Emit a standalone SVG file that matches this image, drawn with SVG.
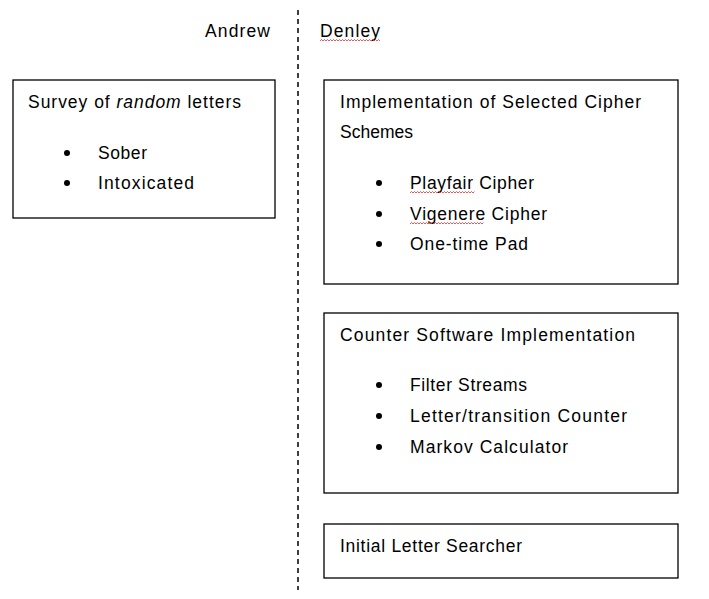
<svg xmlns="http://www.w3.org/2000/svg" width="709" height="599" viewBox="0 0 709 599">
<style>
.box{fill:#fff;stroke:#000;stroke-width:1.3}
text{font-family:"Liberation Sans",Arial,sans-serif;font-size:17.5px;fill:#000}
.sq{fill:none;stroke:#e03030;stroke-width:0.8}
</style>
<rect width="709" height="599" fill="#fff"/>
<g id="divider">
<line x1="298" y1="10" x2="298" y2="590" stroke="#000" stroke-width="1.5" stroke-dasharray="5,4"/>
</g>
<g id="header-andrew"><text x="205" y="37" textLength="65" lengthAdjust="spacing">Andrew</text></g>
<g id="header-denley"><text x="320" y="37" textLength="60" lengthAdjust="spacing">Denley</text>
<path class="sq" d="M320,41 l1.5,-1.5 l1.5,1.5 l1.5,-1.5 l1.5,1.5 l1.5,-1.5 l1.5,1.5 l1.5,-1.5 l1.5,1.5 l1.5,-1.5 l1.5,1.5 l1.5,-1.5 l1.5,1.5 l1.5,-1.5 l1.5,1.5 l1.5,-1.5 l1.5,1.5 l1.5,-1.5 l1.5,1.5 l1.5,-1.5 l1.5,1.5 l1.5,-1.5 l1.5,1.5 l1.5,-1.5 l1.5,1.5 l1.5,-1.5 l1.5,1.5 l1.5,-1.5 l1.5,1.5 l1.5,-1.5 l1.5,1.5 l1.5,-1.5 l1.5,1.5 l1.5,-1.5 l1.5,1.5 l1.5,-1.5 l1.5,1.5 l1.5,-1.5 l1.5,1.5 l1.5,-1.5 l1.5,1.5"/></g>
<g id="survey">
<rect class="box" x="13" y="80" width="262" height="138"/>
<text x="28" y="108" textLength="213" lengthAdjust="spacing">Survey of <tspan font-style="italic">random</tspan> letters</text>
<circle cx="67" cy="153" r="3"/><text x="98" y="159" textLength="49" lengthAdjust="spacing">Sober</text>
<circle cx="67" cy="183" r="3"/><text x="98" y="189" textLength="96" lengthAdjust="spacing">Intoxicated</text>
</g>
<g id="cipher">
<rect class="box" x="324" y="80" width="354" height="204"/>
<text x="340" y="108" textLength="301" lengthAdjust="spacing">Implementation of Selected Cipher</text>
<text x="340" y="138" textLength="73" lengthAdjust="spacing">Schemes</text>
<circle cx="379" cy="183" r="3"/><text x="410" y="189" textLength="124" lengthAdjust="spacing">Playfair Cipher</text>
<path class="sq" d="M410,193 l1.5,-1.5 l1.5,1.5 l1.5,-1.5 l1.5,1.5 l1.5,-1.5 l1.5,1.5 l1.5,-1.5 l1.5,1.5 l1.5,-1.5 l1.5,1.5 l1.5,-1.5 l1.5,1.5 l1.5,-1.5 l1.5,1.5 l1.5,-1.5 l1.5,1.5 l1.5,-1.5 l1.5,1.5 l1.5,-1.5 l1.5,1.5 l1.5,-1.5 l1.5,1.5 l1.5,-1.5 l1.5,1.5 l1.5,-1.5 l1.5,1.5 l1.5,-1.5 l1.5,1.5 l1.5,-1.5 l1.5,1.5 l1.5,-1.5 l1.5,1.5 l1.5,-1.5 l1.5,1.5 l1.5,-1.5 l1.5,1.5 l1.5,-1.5 l1.5,1.5 l1.5,-1.5 l1.5,1.5 l1.5,-1.5 l1.5,1.5 l1.5,-1.5"/>
<circle cx="379" cy="214" r="3"/><text x="410" y="220" textLength="137" lengthAdjust="spacing">Vigenere Cipher</text>
<path class="sq" d="M410,224 l1.5,-1.5 l1.5,1.5 l1.5,-1.5 l1.5,1.5 l1.5,-1.5 l1.5,1.5 l1.5,-1.5 l1.5,1.5 l1.5,-1.5 l1.5,1.5 l1.5,-1.5 l1.5,1.5 l1.5,-1.5 l1.5,1.5 l1.5,-1.5 l1.5,1.5 l1.5,-1.5 l1.5,1.5 l1.5,-1.5 l1.5,1.5 l1.5,-1.5 l1.5,1.5 l1.5,-1.5 l1.5,1.5 l1.5,-1.5 l1.5,1.5 l1.5,-1.5 l1.5,1.5 l1.5,-1.5 l1.5,1.5 l1.5,-1.5 l1.5,1.5 l1.5,-1.5 l1.5,1.5 l1.5,-1.5 l1.5,1.5 l1.5,-1.5 l1.5,1.5 l1.5,-1.5 l1.5,1.5 l1.5,-1.5 l1.5,1.5 l1.5,-1.5 l1.5,1.5 l1.5,-1.5 l1.5,1.5 l1.5,-1.5 l1.5,1.5 l1.5,-1.5"/>
<circle cx="379" cy="244" r="3"/><text x="410" y="250" textLength="118" lengthAdjust="spacing">One-time Pad</text>
</g>
<g id="counter">
<rect class="box" x="324" y="313" width="354" height="180"/>
<text x="340" y="341" textLength="295" lengthAdjust="spacing">Counter Software Implementation</text>
<circle cx="379" cy="385" r="3"/><text x="410" y="391" textLength="117" lengthAdjust="spacing">Filter Streams</text>
<circle cx="379" cy="416" r="3"/><text x="410" y="422" textLength="217" lengthAdjust="spacing">Letter/transition Counter</text>
<circle cx="379" cy="447" r="3"/><text x="410" y="453" textLength="158" lengthAdjust="spacing">Markov Calculator</text>
</g>
<g id="searcher">
<rect class="box" x="324" y="524" width="354" height="54"/>
<text x="340" y="552" textLength="182" lengthAdjust="spacing">Initial Letter Searcher</text>
</g>
</svg>
